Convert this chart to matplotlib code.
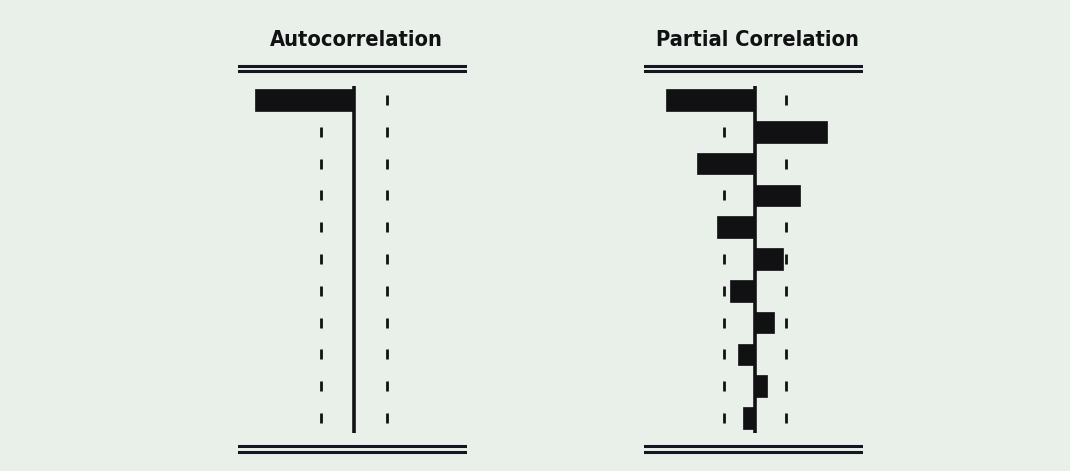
import numpy as np
import matplotlib
matplotlib.use("Agg")
import matplotlib.pyplot as plt

# correlogram values (lags 1..11)
lags = np.arange(1, 12)
acf_vals = [-0.495, 0.0, 0.0, 0.0, 0.0, 0.0, 0.0, 0.0, 0.0, 0.0, 0.0]
pacf_vals = [-0.445, 0.36, -0.29, 0.225, -0.19, 0.14, -0.125, 0.095, -0.085, 0.06, -0.06]
acf_bound = 0.165
pacf_bound = 0.155
titles = ["Autocorrelation", "Partial Correlation"]

W, H = 1070, 471
bg = "#e9efe9"
ink = "#111114"

fig = plt.figure(figsize=(W / 100, H / 100), dpi=100, facecolor=bg)

# pixel helpers for layout
row0_y, row_step = 100.0, 31.8
def row_of(y):
    return 1 + (y - row0_y) / row_step

y_top_px, y_bot_px = 50, 465
ylim = (row_of(y_bot_px), row_of(y_top_px))

panels = [
    dict(x0=238, x1=467, zero=354, vals=acf_vals, bound=acf_bound, title=titles[0]),
    dict(x0=644, x1=863, zero=755, vals=pacf_vals, bound=pacf_bound, title=titles[1]),
]
scale = 200.0  # pixels per correlation unit

for p in panels:
    ax = fig.add_axes([p["x0"] / W, 1 - y_bot_px / H, (p["x1"] - p["x0"]) / W, (y_bot_px - y_top_px) / H])
    ax.set_xlim(-(p["zero"] - p["x0"]) / scale, (p["x1"] - p["zero"]) / scale)
    ax.set_ylim(ylim)
    ax.axis("off")

    # bars
    ax.barh(lags, p["vals"], height=0.68, color=ink, edgecolor=ink, linewidth=0.5)
    # zero line
    ax.plot([0, 0], [row_of(86), row_of(433)], color=ink, lw=2.6, solid_capstyle="butt")
    # confidence bounds drawn as short dashes per lag
    for b in (-p["bound"], p["bound"]):
        ax.vlines(np.full(len(lags), b), lags - 0.16, lags + 0.16, color=ink, lw=2.0)

    # double rules above and below
    for yy in (66, 71.5, 445.5, 452):
        ax.axhline(row_of(yy), color="#161622", lw=2.2)

    fig.text(p["zero"] / W + 0.002, 1 - 45.5 / H, p["title"], ha="center", va="baseline",
             fontsize=15.7, fontweight="bold", fontstretch="condensed",
             family=["DejaVu Sans"], color=ink)

fig.savefig("out.png", dpi=100, facecolor=bg)
